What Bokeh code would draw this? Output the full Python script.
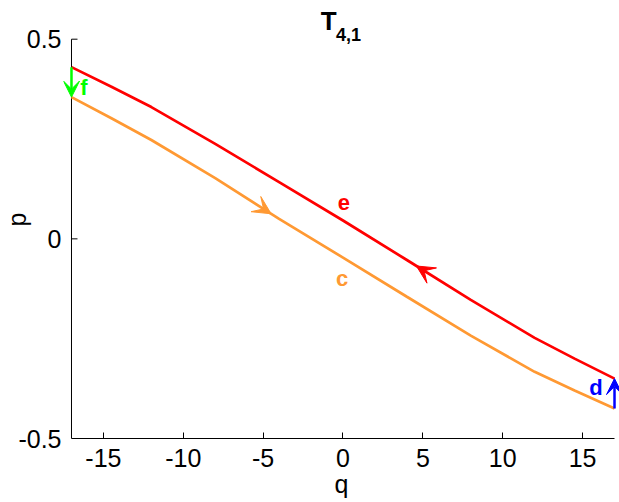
import numpy as np
from bokeh.plotting import figure
from bokeh.models import Label, Arrow, VeeHead, FixedTicker, Range1d
from bokeh.embed import file_html
from bokeh.resources import INLINE

# ---- data ----
q = [-17, -14.5, -12, -8, -4, 0, 4, 8, 12, 14.5, 17]
p_e = [0.43, 0.381, 0.33, 0.238, 0.142, 0.046, -0.053, -0.153, -0.248, -0.300, -0.35]
p_c = [0.355, 0.302, 0.2475, 0.152, 0.05, -0.047, -0.145, -0.2425, -0.333, -0.380, -0.425]
x_ticks = [-15, -10, -5, 0, 5, 10, 15]
y_ticks = [-0.5, 0, 0.5]
x_tick_labels = ["-15", "-10", "-5", "0", "5", "10", "15"]
y_tick_labels = ["-0.5", "0", "0.5"]
q_limits = [-17, 17]
p_limits = [-0.5, 0.5]
arrow_c_q = [-5.5, -4.5]   # direction arrow on c (tail, tip)
arrow_e_q = [5.6, 4.6]     # direction arrow on e (tail, tip)

RED = "#FF0000"
ORANGE = "#FF9933"
GREEN = "#00FF00"
BLUE = "#0000FF"
FONT = "Liberation Sans"

p = figure(width=619, height=502,
           x_range=Range1d(-17.5, 17.3125), y_range=Range1d(-0.5, 0.5969),
           output_backend="svg", toolbar_location=None,
           min_border_left=63, min_border_right=0, min_border_top=0, min_border_bottom=64)
p.outline_line_color = None
p.grid.visible = False
p.background_fill_color = "white"

for ax, ticks, labels, bnds in ((p.xaxis[0], x_ticks, x_tick_labels, q_limits),
                                (p.yaxis[0], y_ticks, y_tick_labels, p_limits)):
    ax.ticker = FixedTicker(ticks=ticks)
    ax.major_label_overrides = {t: l for t, l in zip(ticks, labels)}
    ax.bounds = tuple(bnds)
    ax.minor_tick_line_color = None
    ax.major_tick_in = 6
    ax.major_tick_out = 0
    ax.axis_line_color = "black"
    ax.major_tick_line_color = "black"
    ax.major_label_text_font = FONT
    ax.major_label_text_font_size = "25px"
    ax.major_label_text_color = "black"
    ax.axis_label_text_font = FONT
    ax.axis_label_text_font_size = "25px"
    ax.axis_label_text_font_style = "normal"
    ax.axis_label_text_color = "black"

p.xaxis.major_label_standoff = 10
p.xaxis.axis_label = "q"
p.xaxis.axis_label_standoff = 0

# y axis: labels from the axis; its rule is drawn at q = -17 (a little inside the frame
# so that the end arrows are not cut)
p.yaxis.major_label_standoff = 2
p.yaxis.axis_label = "p"
p.yaxis.axis_label_standoff = -16
p.yaxis.axis_line_color = None
p.yaxis.major_tick_line_color = None
p.segment(x0=[q_limits[0]], y0=[p_limits[0]], x1=[q_limits[0]], y1=[p_limits[1]],
          line_color="black", line_width=1)
p.ray(x=[q_limits[0]] * len(y_ticks), y=y_ticks, length=6, length_units="screen",
      angle=0, line_color="black", line_width=1)

# curves
p.line(q, p_c, line_color=ORANGE, line_width=2.7)
p.line(q, p_e, line_color=RED, line_width=2.7)

# direction arrows along curves
def add_dir_arrow(qs, qq, pp, color):
    ys = np.interp(qs, qq, pp)
    p.add_layout(Arrow(x_start=qs[0], y_start=ys[0], x_end=qs[1], y_end=ys[1],
                       line_alpha=0, line_width=0,
                       end=VeeHead(size=18, fill_color=color, line_color=color, line_width=1)))

add_dir_arrow(arrow_c_q, q, p_c, ORANGE)
add_dir_arrow(arrow_e_q, q, p_e, RED)

# vertical transition arrows at the ends
p.add_layout(Arrow(x_start=q[0], y_start=p_e[0], x_end=q[0], y_end=p_c[0],
                   line_color=GREEN, line_width=2.5,
                   end=VeeHead(size=16, fill_color=GREEN, line_color=GREEN, line_width=1)))
p.add_layout(Arrow(x_start=q[-1], y_start=p_c[-1], x_end=q[-1], y_end=p_e[-1],
                   line_color=BLUE, line_width=2.5,
                   end=VeeHead(size=16, fill_color=BLUE, line_color=BLUE, line_width=1)))

# curve labels
for txt, x, y, col in (("f", -16.22, 0.378, GREEN), ("d", 15.84, -0.372, BLUE),
                       ("e", 0.06, 0.091, RED), ("c", -0.06, -0.099, ORANGE)):
    p.add_layout(Label(x=x, y=y, text=txt, text_color=col, text_font=FONT,
                       text_font_size="22px", text_font_style="bold",
                       text_align="center", text_baseline="middle"))

# title T_{4,1}
p.add_layout(Label(x=-0.40, y=0.5468, text="T",
                   text_font=FONT, text_font_size="26px", text_font_style="bold",
                   text_align="right", text_baseline="alphabetic", text_color="black"))
p.add_layout(Label(x=-0.44, y=0.5118, text="4,1",
                   text_font=FONT, text_font_size="18px", text_font_style="bold",
                   text_align="left", text_baseline="alphabetic", text_color="black"))

open("out.html", "w").write(file_html(p, INLINE))
